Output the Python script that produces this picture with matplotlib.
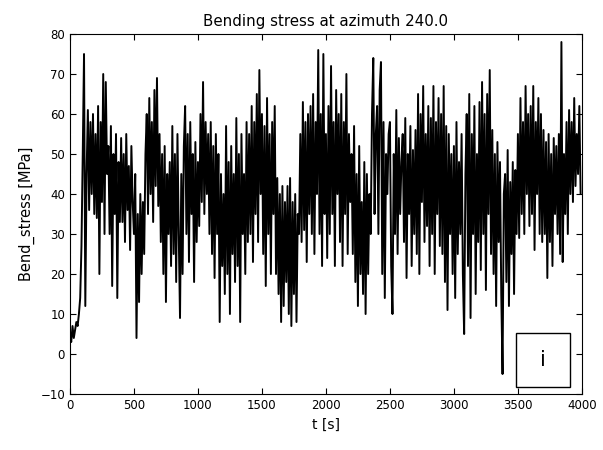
import numpy as np
import matplotlib
matplotlib.use("Agg")
from matplotlib import pyplot as plt
from matplotlib.patches import Rectangle

stress = [
    5, 3, 7, 4, 6, 8, 7, 10, 14, 27,
    50, 75, 12, 45, 61, 36, 58, 40, 60, 35,
    55, 34, 62, 20, 58, 38, 70, 30, 68, 45,
    52, 30, 57, 17, 50, 35, 55, 14, 48, 33,
    54, 33, 50, 28, 55, 36, 47, 26, 52, 38,
    30, 45, 4, 35, 13, 40, 20, 38, 25, 50,
    60, 35, 64, 40, 58, 33, 66, 42, 69, 37,
    55, 28, 50, 20, 52, 13, 45, 30, 48, 22,
    57, 25, 50, 18, 55, 30, 9, 45, 20, 52,
    62, 30, 55, 23, 58, 35, 50, 18, 53, 28,
    48, 32, 60, 38, 68, 35, 58, 40, 55, 30,
    58, 25, 52, 19, 55, 30, 50, 8, 45, 22,
    40, 15, 57, 20, 48, 10, 52, 25, 45, 18,
    59, 22, 50, 8, 55, 30, 45, 20, 58, 28,
    55, 30, 62, 23, 58, 35, 65, 28, 71, 40,
    60, 25, 57, 17, 64, 30, 55, 20, 58, 35,
    62, 20, 44, 15, 40, 8, 42, 12, 38, 18,
    42, 10, 44, 7, 38, 15, 40, 8, 35, 30,
    55, 28, 63, 31, 58, 23, 60, 35, 62, 30,
    65, 25, 58, 40, 76, 30, 60, 22, 75, 35,
    55, 24, 62, 30, 72, 35, 58, 22, 66, 40,
    60, 28, 65, 22, 58, 35, 70, 25, 55, 38,
    50, 25, 57, 18, 45, 12, 52, 20, 38, 15,
    48, 10, 45, 20, 40, 30, 60, 74, 35, 55,
    62, 30, 66, 73, 20, 58, 14, 50, 40, 55,
    58, 22, 10, 50, 30, 61, 25, 54, 35, 48,
    55, 28, 59, 19, 50, 35, 57, 22, 51, 30,
    56, 25, 65, 20, 60, 38, 67, 28, 55, 32,
    62, 22, 59, 30, 67, 20, 58, 35, 64, 27,
    60, 25, 67, 18, 57, 11, 55, 30, 50, 20,
    52, 14, 58, 25, 48, 30, 55, 20, 5, 45,
    60, 22, 65, 9, 55, 30, 62, 15, 50, 28,
    63, 21, 68, 30, 60, 16, 65, 35, 71, 25,
    56, 20, 50, 12, 53, 28, 48, 15, -5, 40,
    45, 18, 51, 12, 43, 25, 48, 15, 46, 30,
    55, 29, 64, 35, 58, 30, 67, 40, 60, 32,
    62, 35, 67, 26, 58, 40, 64, 30, 60, 28,
    56, 30, 53, 19, 55, 28, 50, 22, 54, 35,
    52, 30, 55, 25, 78, 23, 50, 35, 58, 30,
    61, 40, 58, 38, 64, 42, 55, 45, 62, 40,
]
t = np.arange(len(stress)) * 10

fig = plt.figure(figsize=(6.03, 4.5), dpi=100)
ax = fig.add_axes([0.116, 0.1244, 0.849, 0.80])

ax.plot(t, stress, color='k', lw=1.4)
ax.set_xlim(0, 4000)
ax.set_ylim(-10, 80)
ax.set_xticks(range(0, 4001, 500))
ax.set_yticks(range(-10, 81, 10))
ax.tick_params(direction='in', top=True, right=True, labelsize=8.5, length=4)
ax.set_title('Bending stress at azimuth 240.0', fontsize=10.8)
ax.set_xlabel('t [s]', fontsize=10)
ax.set_ylabel('Bend_stress [MPa]', fontsize=10.5)

# small label box in the lower right corner
ax.add_patch(Rectangle((0.871, 0.019), 0.106, 0.150, transform=ax.transAxes,
                       fill=False, ec='k', lw=1))
ax.text(0.924, 0.094, 'i', transform=ax.transAxes, ha='center', va='center',
        fontsize=15)

fig.savefig('out.png', dpi=100)
